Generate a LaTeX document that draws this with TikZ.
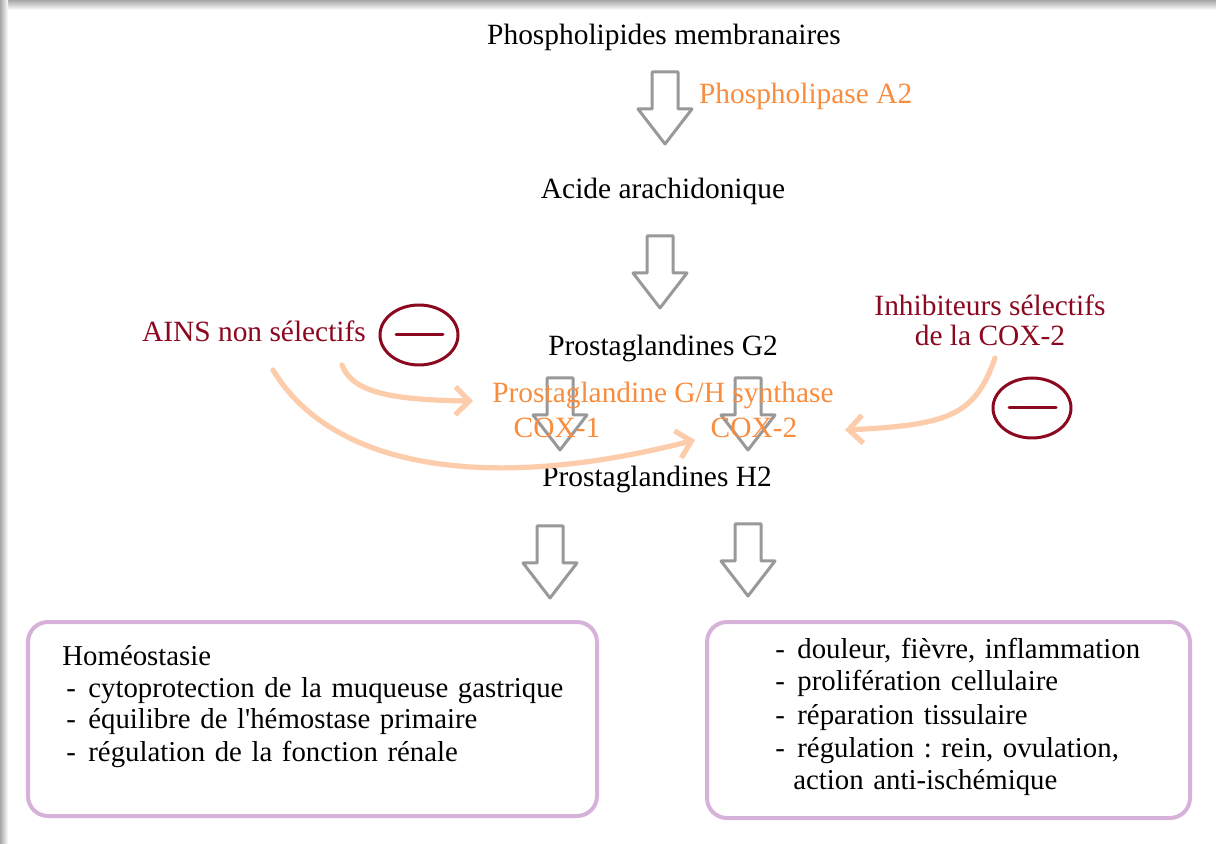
\documentclass[tikz,border=0pt]{standalone}
\usepackage{fontspec}
\setmainfont{Liberation Serif}
\usetikzlibrary{arrows.meta}
\usetikzlibrary{calc}
\definecolor{pathgray}{rgb}{0.6,0.6,0.6}
\definecolor{enzorange}{rgb}{0.98,0.55,0.24}
\definecolor{inhibred}{rgb}{0.55,0.03,0.12}
\definecolor{lightorange}{rgb}{0.99,0.80,0.67}
\definecolor{boxlilac}{rgb}{0.84,0.70,0.86}
\frenchspacing

\begin{document}
\begin{tikzpicture}[line cap=round,line join=round,x=0.5pt,y=-0.5pt,
  font=\fontsize{14.7}{16}\selectfont,
  bigarrow/.style={draw=pathgray,line width=1.5pt},
  enzyme/.style={text=enzorange},
  drug/.style={text=inhibred},
  blocker/.style={inhibred,line width=1.5pt},
  effect/.style={-{Straight Barb[length=7pt,width=14pt]},lightorange,line width=2.6pt},
  frame/.style={boxlilac,line width=2pt,rounded corners=10pt}]
\useasboundingbox (0,0) rectangle (1216,844);
\fill[white] (0,0) rectangle (1216,844);
% page shadow
\shade[top color=black!35,bottom color=white] (0,0) rectangle (1216,10);
\shade[left color=black!35,right color=white] (0,0) rectangle (8,844);
% hollow arrows of the cascade
\foreach \ax/\ay in {665/72,660/236,560/378,748/378,550/526,748/524}
  \draw[bigarrow] (\ax-13,\ay) -- (\ax+13,\ay) -- (\ax+13,\ay+37) -- (\ax+27,\ay+37)
    -- (\ax,\ay+72) -- (\ax-27,\ay+37) -- (\ax-13,\ay+37) -- cycle;
% cascade
\node (phos) at (664,37) {Phospholipides membranaires};
\node[enzyme,anchor=west] (pla2) at (692,96) {Phospholipase A2};
\node (acide) at (663,191) {Acide arachidonique};
\node (pgg2) at (663,348) {Prostaglandines G2};
\node[enzyme] (pghs) at (663,395) {Prostaglandine G/H synthase};
\node[enzyme] (cox1) at (557,428) {COX-1};
\node[enzyme] (cox2) at (754,428) {COX-2};
\node (pgh2) at (657,479) {Prostaglandines H2};
% inhibitors
\node[drug] (ains) at (254,331) {AINS non sélectifs};
\node[drug,align=center,font=\fontsize{14.7}{15}\selectfont] (inhib) at (990,320) {Inhibiteurs sélectifs\\de la COX-2};
\draw[blocker] (419,335) ellipse [x radius=19.5pt,y radius=15pt];
\draw[blocker] (396,335) -- (443,335);
\draw[blocker] (1032,408) ellipse [x radius=19.5pt,y radius=15pt];
\draw[blocker] (1009,408) -- (1056,408);
\draw[effect] ($(ains)+(88,34)$) .. controls ($(ains)+(98,61)$) and ($(pghs)+(-273,5)$) .. ($(pghs)+(-190,6)$);
\draw[effect] ($(ains)+(19,39)$) .. controls ($(ains)+(76,134)$) and ($(cox2)+(-274,67)$) .. ($(cox2)+(-59,12)$);
\draw[effect] ($(inhib)+(5,38)$) .. controls ($(inhib)+(-15,95)$) and ($(cox2)+(196,-3)$) .. ($(cox2)+(91,2)$);
% effects
\draw[frame] (28,622) rectangle (597,816);
\draw[frame] (707,622) rectangle (1190,818);
\node[anchor=base west,inner sep=0pt,text width=260pt,align=left,font=\fontsize{14.4}{16}\selectfont] (homeo) at (62,665)
  {Homéostasie\\
   \makebox[13pt][l]{\hspace{2pt}-}cytoprotection de la muqueuse gastrique\\
   \makebox[13pt][l]{\hspace{2pt}-}équilibre de l\textquotesingle hémostase primaire\\
   \makebox[13pt][l]{\hspace{2pt}-}régulation de la fonction rénale};
\node[anchor=base west,inner sep=0pt,text width=200pt,align=left,font=\fontsize{14.4}{16.5}\selectfont] (pain) at (775,658)
  {\makebox[11pt][l]{-}douleur, fièvre, inflammation\\
   \makebox[11pt][l]{-}prolifération cellulaire\\
   \makebox[11pt][l]{-}réparation tissulaire\\
   \makebox[11pt][l]{-}régulation : rein, ovulation,\\
   \hspace{9pt}action anti-ischémique};
\end{tikzpicture}
\end{document}
